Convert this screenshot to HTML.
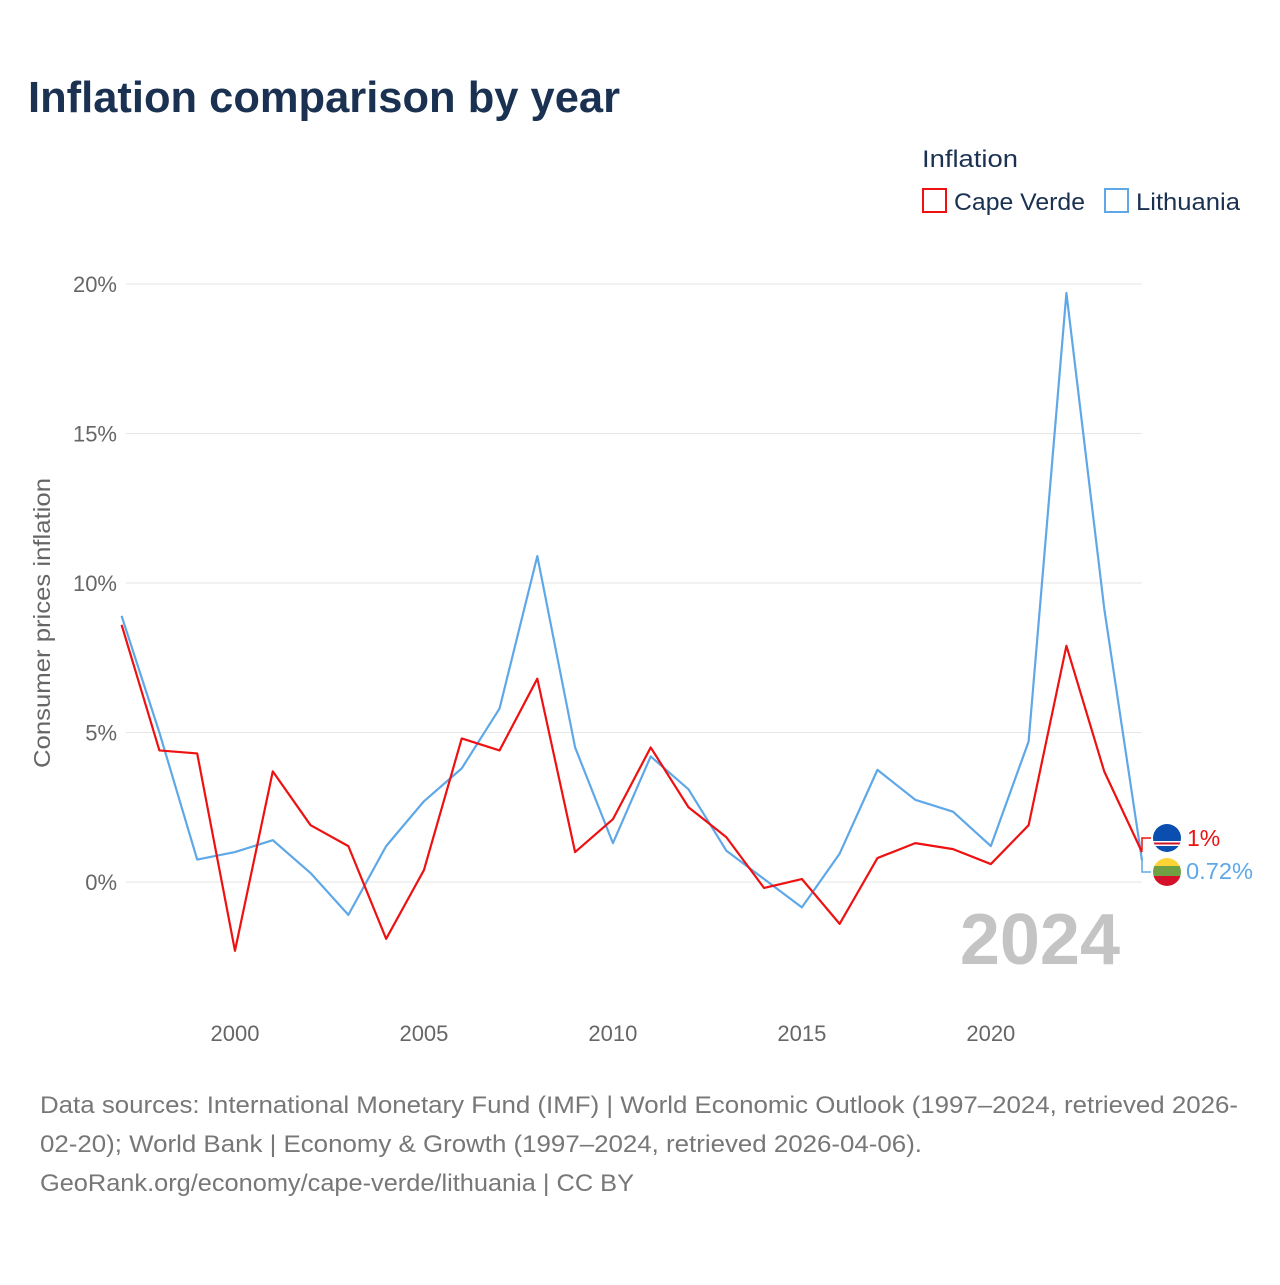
<!DOCTYPE html>
<html><head><meta charset="utf-8"><style>
body{margin:0;background:#fff;}
svg text{font-family:"Liberation Sans",sans-serif;}
</style></head><body>
<svg width="1280" height="1280" viewBox="0 0 1280 1280" xmlns="http://www.w3.org/2000/svg">
<rect width="1280" height="1280" fill="#fff"/>
<text x="28" y="112" font-size="44" font-weight="bold" fill="#1a3152" textLength="592" lengthAdjust="spacingAndGlyphs">Inflation comparison by year</text>
<text x="922" y="167" font-size="24" fill="#1a3152" textLength="96" lengthAdjust="spacingAndGlyphs">Inflation</text>
<g>
<rect x="923" y="189" width="23" height="23" fill="none" stroke="#ee1111" stroke-width="2"/>
<text x="954" y="210" font-size="24" fill="#1a3152" textLength="131" lengthAdjust="spacingAndGlyphs">Cape Verde</text></g>
<g>
<rect x="1105" y="189" width="23" height="23" fill="none" stroke="#5fa8e8" stroke-width="2"/>
<text x="1136" y="210" font-size="24" fill="#1a3152" textLength="104" lengthAdjust="spacingAndGlyphs">Lithuania</text></g>
<text transform="translate(50,623) rotate(-90)" text-anchor="middle" font-size="23" fill="#666" textLength="290" lengthAdjust="spacingAndGlyphs">Consumer prices inflation</text>
<g id="grid"></g><g id="xt"></g><g id="lines"></g>
<text x="1120" y="964" text-anchor="end" font-size="72" font-weight="bold" fill="#c4c4c4">2024</text>
<g>
<clipPath id="c1"><circle cx="1167" cy="838" r="14"/></clipPath>
<g clip-path="url(#c1)"><rect x="1150" y="822" width="34" height="34" fill="#0a4fb0"/><rect x="1150" y="841" width="34" height="5" fill="#fff"/><rect x="1150" y="842.5" width="34" height="2" fill="#d0142a"/></g></g>
<g>
<clipPath id="c2"><circle cx="1167" cy="872" r="14"/></clipPath>
<g clip-path="url(#c2)"><rect x="1150" y="856" width="34" height="11" fill="#fcd437"/><rect x="1150" y="866" width="34" height="10" fill="#6fa044"/><rect x="1150" y="876" width="34" height="14" fill="#d4102a"/></g></g>
<path d="M1142 850 V838 H1151" fill="none" stroke="#ee1111" stroke-width="1.5"/>
<path d="M1142 858 V872 H1151" fill="none" stroke="#5fa8e8" stroke-width="1.5"/>
<text x="1187" y="846" font-size="23" fill="#ee1111">1%</text>
<text x="1186" y="879" font-size="23" fill="#5fa8e8" textLength="67" lengthAdjust="spacingAndGlyphs">0.72%</text>
<g font-size="24" fill="#777">
<text x="40" y="1113" textLength="1198" lengthAdjust="spacingAndGlyphs">Data sources: International Monetary Fund (IMF) | World Economic Outlook (1997–2024, retrieved 2026-</text>
<text x="40" y="1152" textLength="882" lengthAdjust="spacingAndGlyphs">02-20); World Bank | Economy &amp; Growth (1997–2024, retrieved 2026-04-06).</text>
<text x="40" y="1191" textLength="594" lengthAdjust="spacingAndGlyphs">GeoRank.org/economy/cape-verde/lithuania | CC BY</text></g>
</svg>
<script>
const years=[1997,1998,1999,2000,2001,2002,2003,2004,2005,2006,2007,2008,2009,2010,2011,2012,2013,2014,2015,2016,2017,2018,2019,2020,2021,2022,2023,2024];
const capeVerde=[8.6,4.4,4.3,-2.3,3.7,1.9,1.2,-1.9,0.4,4.8,4.4,6.8,1.0,2.1,4.5,2.5,1.5,-0.2,0.1,-1.4,0.8,1.3,1.1,0.6,1.9,7.9,3.7,1.0];
const lithuania=[8.9,5.0,0.75,1.0,1.4,0.3,-1.1,1.2,2.7,3.8,5.8,10.9,4.5,1.3,4.2,3.1,1.05,0.1,-0.85,0.95,3.75,2.75,2.35,1.2,4.7,19.7,9.15,0.72];
const yTicks=[0,5,10,15,20];
const xTicks=[2000,2005,2010,2015,2020];
const NS="http://www.w3.org/2000/svg";
const X=y=>121.6+(y-1997)*(1142-121.6)/27;
const Y=v=>882-v*29.9;
function mk(tag,attrs,parent){const e=document.createElementNS(NS,tag);for(const k in attrs)e.setAttribute(k,attrs[k]);document.getElementById(parent).appendChild(e);return e;}
yTicks.forEach(t=>{
 const l=mk('line',{x1:126,x2:1142,y1:Y(t),y2:Y(t),stroke:'#e6e6e6','stroke-width':1},'grid');
 
 
 const tx=mk('text',{x:117,y:Y(t)+8,'text-anchor':'end','font-size':22,fill:'#666'},'grid');
 tx.textContent=t+'%';
 
 
});
xTicks.forEach(t=>{
 const tx=mk('text',{x:X(t),y:1041,'text-anchor':'middle','font-size':22,fill:'#666'},'xt');
 tx.textContent=t;
 
 
});
function line(vals,color,name){
 const p=mk('polyline',{points:vals.map((v,i)=>X(years[i])+','+Y(v)).join(' '),fill:'none',stroke:color,'stroke-width':2.2,'stroke-linejoin':'round'},'lines');
 
 
}
line(lithuania,'#5fa8e8','line-lithuania');
line(capeVerde,'#ee1111','line-cape-verde');
</script>
</body></html>
